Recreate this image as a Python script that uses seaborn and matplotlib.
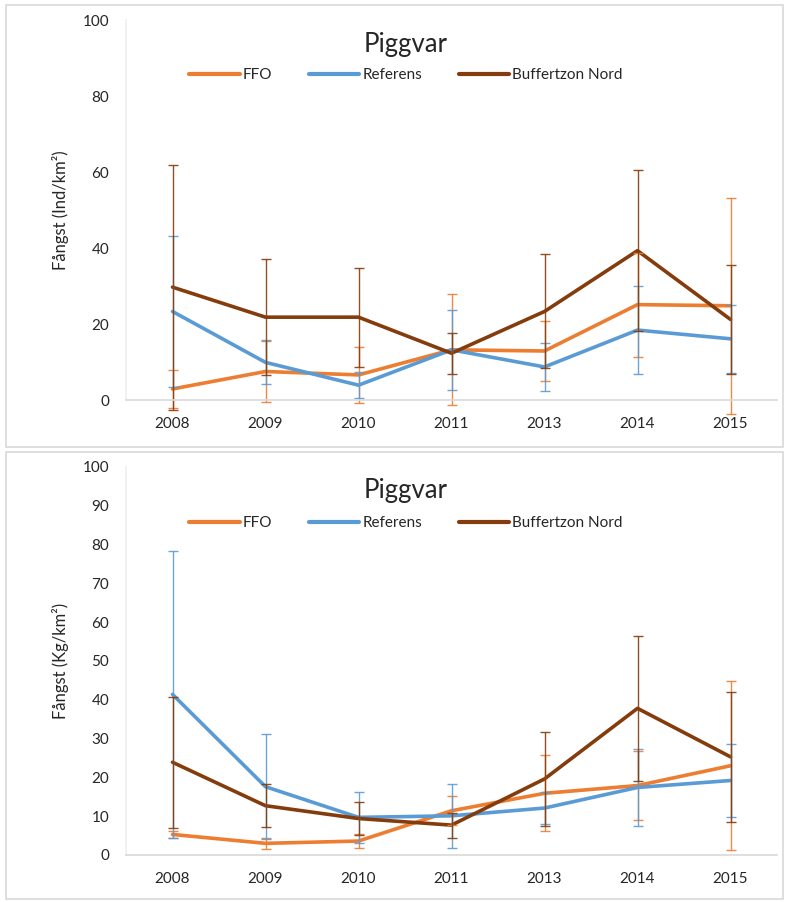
import numpy as np
import pandas as pd
import matplotlib
matplotlib.use("Agg")
import matplotlib.pyplot as plt
from matplotlib.patches import Rectangle
import seaborn as sns

years = ["2008", "2009", "2010", "2011", "2013", "2014", "2015"]
series_names = ["FFO", "Referens", "Buffertzon Nord"]
colors = ["#ED7D31", "#5B9BD5", "#843C0C"]

# Top panel: individuals per km2 (mean, +/- error)
ind_ffo = [2.9, 7.5, 6.6, 13.2, 12.9, 25.1, 24.8]
ind_ffo_err = [5.1, 7.9, 7.3, 14.6, 8.0, 13.7, 28.4]
ind_ref = [23.3, 9.9, 3.9, 13.2, 8.7, 18.4, 16.1]
ind_ref_err = [19.8, 5.8, 3.5, 10.6, 6.3, 11.5, 9.0]
ind_buf = [29.7, 21.8, 21.8, 12.3, 23.3, 39.3, 21.2]
ind_buf_err = [32.2, 15.3, 13.0, 5.4, 15.0, 21.2, 14.4]

# Bottom panel: kg per km2
kg_ffo = [5.3, 3.0, 3.6, 11.4, 15.9, 17.9, 23.0]
kg_ffo_err = [1.0, 1.5, 1.7, 3.7, 9.8, 8.9, 21.8]
kg_ref = [41.4, 17.6, 9.7, 10.1, 12.1, 17.4, 19.2]
kg_ref_err = [37.0, 13.6, 6.6, 8.3, 4.2, 10.0, 9.4]
kg_buf = [23.9, 12.7, 9.4, 7.7, 19.6, 37.8, 25.3]
kg_buf_err = [16.9, 5.6, 4.2, 3.2, 12.0, 18.7, 16.8]

sns.set_theme(style="white")
plt.rcParams["font.family"] = ["Lato", "DejaVu Sans"]

fig = plt.figure(figsize=(7.89, 9.02), dpi=100)

# grey frames around each chart
for y0, h in [(455 / 902, 442 / 902), (3 / 902, 447 / 902)]:
    fig.patches.append(Rectangle((6 / 789, y0), 777 / 789, h, transform=fig.transFigure,
                                 fill=False, edgecolor="#D9D9D9", linewidth=1.2))


def make_panel(rect, means, errs, ylabel, yticks, title_y, legend_y):
    ax = fig.add_axes(rect)
    x = np.arange(len(years))
    df = pd.DataFrame({
        "x": np.tile(x, 3),
        "value": np.concatenate(means),
        "serie": np.repeat(series_names, len(years)),
    })
    sns.lineplot(data=df, x="x", y="value", hue="serie", hue_order=series_names,
                 palette=colors, linewidth=2.6, ax=ax, legend=False, sort=False)
    for m, e, c in zip(means, errs, colors):
        eb = ax.errorbar(x, m, yerr=e, fmt="none", ecolor=c, elinewidth=1.0,
                         capsize=3.8, capthick=1.0, alpha=0.9)
        for art in eb.lines[1] + eb.lines[2]:
            art.set_clip_on(False)
    ax.set_xlim(-0.5, len(years) - 0.5)
    ax.set_ylim(0, 100)
    ax.set_xticks(x)
    ax.set_xticklabels(years, fontsize=11)
    ax.set_yticks(yticks)
    ax.set_yticklabels([str(t) for t in yticks], fontsize=11)
    ax.tick_params(axis="both", length=0, pad=12)
    ax.set_xlabel("")
    ax.set_ylabel(ylabel, fontsize=12, labelpad=10)
    for side in ["top", "right"]:
        ax.spines[side].set_visible(False)
    ax.spines["left"].set_color("#EFEFEF")
    ax.spines["bottom"].set_color("#D9D9D9")
    ax.spines["bottom"].set_linewidth(1.2)
    ax.set_title("")
    ax.text(0.43, title_y, "Piggvar", transform=ax.transAxes, ha="center",
            va="center", fontsize=18.5)
    handles = [plt.Line2D([0], [0], color=c, linewidth=3) for c in colors]
    ax.legend(handles, series_names, loc="center", bbox_to_anchor=(0.43, legend_y),
              ncol=3, frameon=False, fontsize=11, handlelength=3.3,
              columnspacing=2.4, handletextpad=0.2)
    return ax


make_panel([126 / 789, 1 - 400 / 902, 651 / 789, 380 / 902],
           [ind_ffo, ind_ref, ind_buf], [ind_ffo_err, ind_ref_err, ind_buf_err],
           "Fångst (Ind/km²)", [0, 20, 40, 60, 80, 100], 0.935, 0.855)

make_panel([126 / 789, 1 - 855 / 902, 651 / 789, 388 / 902],
           [kg_ffo, kg_ref, kg_buf], [kg_ffo_err, kg_ref_err, kg_buf_err],
           "Fångst (Kg/km²)", list(range(0, 101, 10)), 0.94, 0.855)

fig.savefig("out.png", dpi=100)
